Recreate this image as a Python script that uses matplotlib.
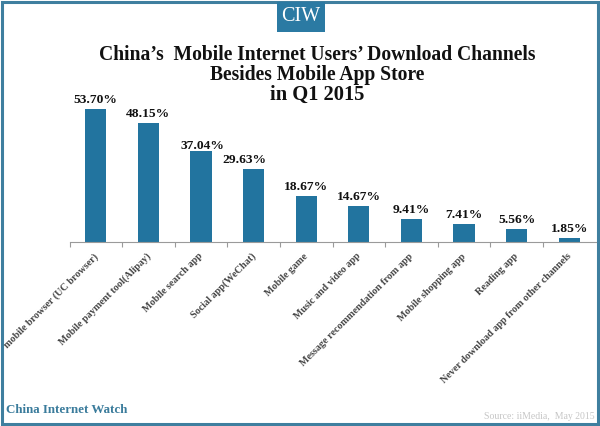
import matplotlib
matplotlib.use("Agg")
import matplotlib.pyplot as plt
from matplotlib.patches import Rectangle
from matplotlib.transforms import ScaledTranslation

categories = ["mobile browser (UC browser)", "Mobile payment tool(Alipay)", "Mobile search app",
              "Social app(WeChat)", "Mobile game", "Music and video app",
              "Message recommendation from app", "Mobile shopping app", "Reading app",
              "Never download app from other channels"]
values = [53.70, 48.15, 37.04, 29.63, 18.67, 14.67, 9.41, 7.41, 5.56, 1.85]
labels = ["53.70%", "48.15%", "37.04%", "29.63%", "18.67%", "14.67%", "9.41%", "7.41%", "5.56%", "1.85%"]

W, H = 600, 426
BLUE = "#22749f"
SERIF = "Liberation Serif"
label_dx = [0, 0, 1, -7, 0, 0, 0, 0, 0, 0]
label_dy = [2.3, 2.3, -0.9, 2.3, 2.3, 2.3, 2.3, 2.3, 2.3, 2.3]

fig = plt.figure(figsize=(6, 4.26), dpi=100, facecolor="white")

# frame and logo tab
bg = fig.add_axes([0, 0, 1, 1]); bg.set_xlim(0, W); bg.set_ylim(H, 0); bg.axis("off")
bg.add_patch(Rectangle((1.5, 2), W - 3.2, H - 3.6, fill=False, ec="#3f7f9f", lw=2.2))
bg.add_patch(Rectangle((277, 2), 48, 30, fc="#2b7aa3", ec="none"))
bg.text(301, 16.5, "CIW", color="white", family=SERIF, fontsize=14.5, ha="center", va="center")
bg.text(317.5, 55, "China\u2019s  Mobile Internet Users\u2019 Download Channels",
        family=SERIF, weight="bold", fontsize=14.1, color="#111111", ha="center", va="center")
bg.text(317.5, 75, "Besides Mobile App Store",
        family=SERIF, weight="bold", fontsize=14.1, color="#111111", ha="center", va="center")
bg.text(317, 95, "in Q1 2015", family=SERIF, weight="bold", fontsize=14.8, color="#111111",
        ha="center", va="center")
bg.text(6.5, 410, "China Internet Watch", family=SERIF, weight="bold", fontsize=9.4, color="#3b7c9c",
        ha="left", va="center")
bg.text(595, 416.5, "Source: iiMedia,  May 2015", family=SERIF, fontsize=7.0, color="#c6c6c6",
        ha="right", va="center")

# chart
ax = fig.add_axes([69.5 / W, 1 - 242.5 / H, 526 / W, 140 / H], facecolor="none")
pos = [i + 0.5 for i in range(len(values))]
ax.bar(pos, values, width=0.4, color=BLUE)
ax.set_xlim(0, len(values)); ax.set_ylim(0, 56.4)
for s in ("top", "left", "right"):
    ax.spines[s].set_visible(False)
ax.spines["bottom"].set_color("#9a9a9a")
ax.set_yticks([])
ax.set_xticks(range(len(values)))
ax.set_xticklabels([])
ax.tick_params(axis="x", which="major", length=3.5, color="#9a9a9a", width=0.8)
ax.set_xticks(pos, minor=True)
ax.set_xticklabels(categories, minor=True, rotation=45, ha="right", rotation_mode="anchor",
                   family=SERIF, weight="bold", fontsize=7.3, color="#444444")
ax.tick_params(axis="x", which="minor", length=0, pad=6.5)
shift = ScaledTranslation(-2.5 / 100, 0, fig.dpi_scale_trans)
for lab in ax.get_xticklabels(minor=True):
    lab.set_transform(lab.get_transform() + shift)
for x, v, t, dx, dy in zip(pos, values, labels, label_dx, label_dy):
    ax.annotate(t, (x, v), xytext=(dx, dy), textcoords="offset points", ha="center", va="bottom",
                family=SERIF, weight="bold", fontsize=9.7, color="#111111", annotation_clip=False)
fig.savefig("out.png", dpi=100)
